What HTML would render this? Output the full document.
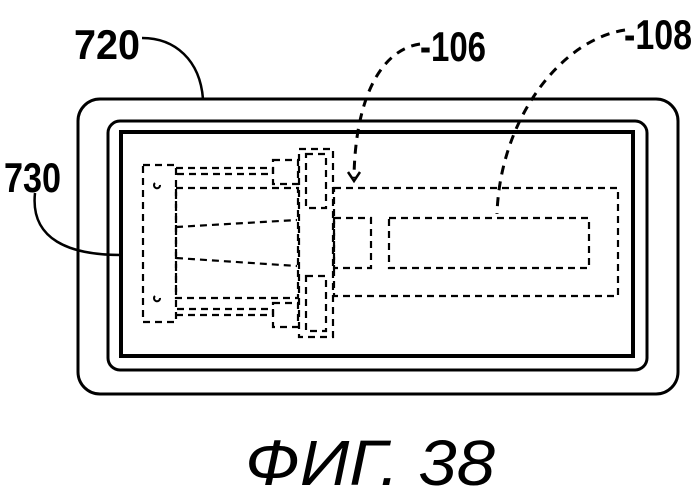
<!DOCTYPE html>
<html><head><style>
body{margin:0;background:#fff;width:700px;height:491px;overflow:hidden}
svg{display:block}
text{font-family:"Liberation Sans",sans-serif;fill:#000}
</style></head><body>
<svg width="700" height="491" viewBox="0 0 700 491" xmlns="http://www.w3.org/2000/svg">
<g fill="none" stroke="#000">
<rect x="78" y="99" width="600" height="295" rx="22" stroke-width="3"/>
<rect x="108" y="121" width="539" height="249" rx="12" stroke-width="3"/>
<rect x="121" y="132" width="512" height="224" stroke-width="4"/>
<g stroke-width="2.2" stroke-dasharray="7,5">
<rect x="334" y="188" width="284" height="108"/>
<rect x="334" y="218" width="37" height="50"/>
<rect x="389" y="218" width="200" height="50"/>
<rect x="143" y="165" width="33" height="157"/>
<rect x="176" y="188" width="122" height="110"/>
<polyline points="176,168 273,168 273,174 176,174"/>
<polyline points="176,315 273,315 273,309 176,309"/>
<rect x="273" y="160" width="25" height="24"/>
<rect x="273" y="303" width="25" height="24"/>
<rect x="299" y="149" width="34" height="188"/>
<rect x="306" y="154" width="20" height="54"/>
<rect x="306" y="276" width="20" height="55"/>
<line x1="176" y1="227" x2="297" y2="220"/>
<line x1="176" y1="258" x2="297" y2="266"/>
</g>
<path d="M155,183 a3,3 0 1,0 5,2" stroke-width="2"/>
<path d="M155,296 a3,3 0 1,0 5,2" stroke-width="2"/>
<g stroke-width="2.5">
<path d="M142,38 C175,38 200,60 203,99"/>
<path d="M35,193 C30,240 70,255 121,255"/>
</g>
<g stroke-width="3" stroke-dasharray="9,7">
<path d="M420,44 C380,50 355,100 354,178"/>
<path d="M625,30 C560,40 500,120 497,214"/>
</g>
<path d="M348,172 L354,181 L360,172" stroke-width="2.5"/>
</g>
<text x="74" y="59" font-size="42" font-weight="bold" textLength="66" lengthAdjust="spacingAndGlyphs">720</text>
<text x="4" y="192" font-size="42" font-weight="bold" textLength="57" lengthAdjust="spacingAndGlyphs">730</text>
<text x="420" y="61" font-size="42" font-weight="bold" textLength="66" lengthAdjust="spacingAndGlyphs">-106</text>
<text x="624" y="49" font-size="42" font-weight="bold" textLength="68" lengthAdjust="spacingAndGlyphs">-108</text>
<text x="245" y="485" font-size="64" font-style="italic" textLength="250" lengthAdjust="spacingAndGlyphs">ФИГ. 38</text>
</svg>
</body></html>
